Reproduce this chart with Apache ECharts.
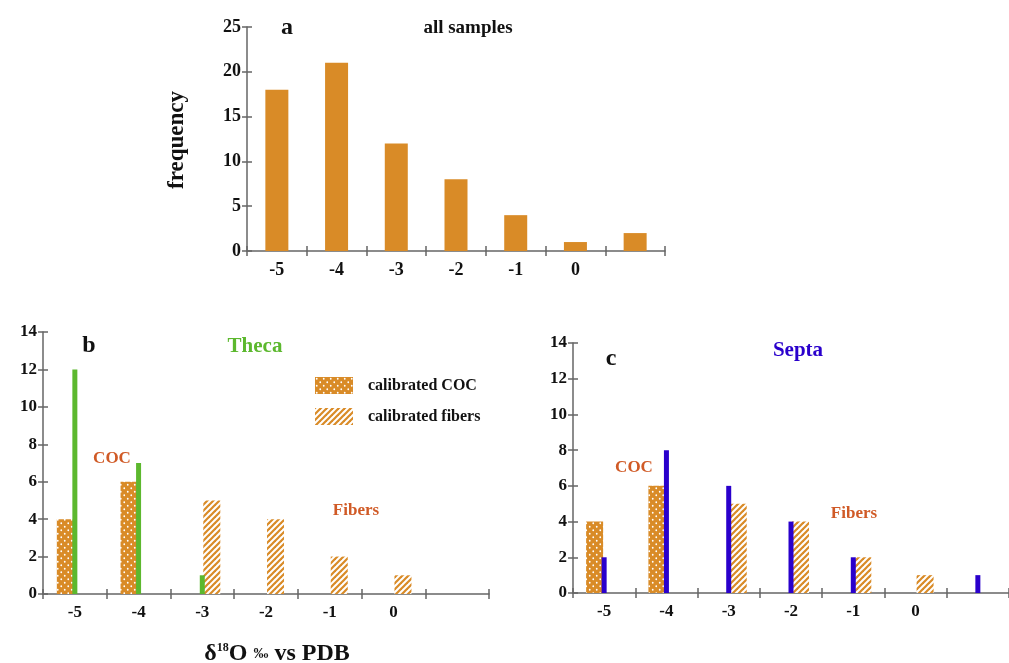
<!DOCTYPE html>
<html style="height: 100%">
<head>
<meta charset="utf-8">
<script src="https://cdn.jsdelivr.net/npm/echarts@6/dist/echarts.min.js"></script>
</head>
<body style="height: 100%; margin: 0; background: #fff">
<div id="container" style="width: 1009px; height: 663px"></div>
<script type="text/javascript">
// categories (delta 18O bins), last bin has no label
var bins = ['-5', '-4', '-3', '-2', '-1', '0', ''];

// a: all samples
var allSamples = [18, 21, 12, 8, 4, 1, 2];

// b: theca
var thecaCOC = [4, 6, null, null, null, null, null];
var thecaFibers = [null, null, 5, 4, 2, 1, null];
var thecaAll = [12, 7, 1, null, null, null, null];

// c: septa
var septaCOC = [4, 6, null, null, null, null, null];
var septaFibers = [null, null, 5, 4, 2, 1, null];
var septaAll = [2, 8, 6, 4, 2, null, 1];

var ORANGE = '#d98b27';
var GREEN = '#5cb82e';
var BLUE = '#2a00cc';
var RED = '#d05a26';
var AXIS = '#666';
var FONT = 'Liberation Serif';

function dotPattern() {
  var c = document.createElement('canvas');
  c.width = 7; c.height = 7;
  var g = c.getContext('2d');
  g.fillStyle = ORANGE;
  g.fillRect(0, 0, 7, 7);
  g.fillStyle = '#fff';
  g.beginPath(); g.arc(1.75, 1.75, 0.9, 0, Math.PI * 2); g.fill();
  g.beginPath(); g.arc(5.25, 5.25, 0.9, 0, Math.PI * 2); g.fill();
  return { image: c, repeat: 'repeat' };
}
function stripePattern() {
  var c = document.createElement('canvas');
  c.width = 6; c.height = 6;
  var g = c.getContext('2d');
  g.fillStyle = '#fff';
  g.fillRect(0, 0, 6, 6);
  g.strokeStyle = ORANGE;
  g.lineWidth = 2.2;
  [[-6, 6, 6, -6], [0, 6, 6, 0], [0, 12, 12, 0]].forEach(function (l) {
    g.beginPath(); g.moveTo(l[0], l[1]); g.lineTo(l[2], l[3]); g.stroke();
  });
  return { image: c, repeat: 'repeat' };
}
var DOTS = dotPattern();
var STRIPES = stripePattern();

var labelStyle = { color: '#111', fontFamily: FONT, fontWeight: 'bold', fontSize: 18 };

function xMain(grid, fs) {
  return {
    type: 'category', gridIndex: grid, position: 'bottom', data: bins,
    axisLine: { lineStyle: { color: AXIS, width: 1.5 } },
    axisTick: { show: true, length: 5, lineStyle: { color: AXIS, width: 1.5 } },
    axisLabel: Object.assign({ margin: 10 }, labelStyle, { fontSize: fs })
  };
}
function xInner(grid) {
  return {
    type: 'category', gridIndex: grid, position: 'bottom', data: bins,
    axisLine: { show: false },
    axisTick: { show: true, inside: true, length: 5, lineStyle: { color: AXIS, width: 1.5 } },
    axisLabel: { show: false }
  };
}
function yMain(grid, max, step, fs) {
  return {
    type: 'value', gridIndex: grid, position: 'left', min: 0, max: max, interval: step,
    splitLine: { show: false },
    axisLine: { show: true, lineStyle: { color: AXIS, width: 1.5 } },
    axisTick: { show: true, length: 5, lineStyle: { color: AXIS, width: 1.5 } },
    axisLabel: Object.assign({ margin: 6 }, labelStyle, { fontSize: fs })
  };
}
function yInner(grid, max, step) {
  return {
    type: 'value', gridIndex: grid, position: 'left', min: 0, max: max, interval: step,
    splitLine: { show: false },
    axisLine: { show: false },
    axisTick: { show: true, inside: true, length: 5, lineStyle: { color: AXIS, width: 1.5 } },
    axisLabel: { show: false }
  };
}
function txt(x, y, s, size, color) {
  return {
    type: 'text', x: x, y: y,
    style: { text: s, fontFamily: FONT, fontWeight: 'bold', fontSize: size, fill: color,
      align: 'center', verticalAlign: 'middle' }
  };
}

var myChart = echarts.init(document.getElementById('container'));
var option = {
  animation: false,
  grid: [
    { left: 247, top: 27, width: 418, height: 224 },
    { left: 43, top: 332, width: 446, height: 262 },
    { left: 573, top: 343, width: 446, height: 250 }
  ],
  xAxis: [xMain(0, 18), xInner(0), xMain(1, 17), xInner(1), xMain(2, 17), xInner(2)],
  yAxis: [yMain(0, 25, 5, 18), yInner(0, 25, 5), yMain(1, 14, 2, 17), yInner(1, 14, 2),
    yMain(2, 14, 2, 17), yInner(2, 14, 2)],
  legend: {
    left: 310, top: 372, orient: 'vertical', selectedMode: false,
    itemWidth: 38, itemHeight: 17, itemGap: 14, icon: 'rect',
    data: ['calibrated COC', 'calibrated fibers'],
    textStyle: { color: '#111', fontFamily: FONT, fontWeight: 'bold', fontSize: 16, padding: [0, 0, 0, 10] }
  },
  series: [
    { type: 'bar', name: 'all samples', xAxisIndex: 0, yAxisIndex: 0, data: allSamples,
      barWidth: 23, itemStyle: { color: ORANGE } },

    { type: 'bar', name: 'calibrated COC', xAxisIndex: 2, yAxisIndex: 2, data: thecaCOC,
      barWidth: 17, barGap: '12%', itemStyle: { color: DOTS } },
    { type: 'bar', name: 'calibrated fibers', xAxisIndex: 2, yAxisIndex: 2, data: thecaFibers,
      barWidth: 17, barGap: '12%', itemStyle: { color: STRIPES } },
    { type: 'bar', name: 'Theca', xAxisIndex: 3, yAxisIndex: 2, data: thecaAll, z: 5,
      barWidth: 5, itemStyle: { color: GREEN } },

    { type: 'bar', name: 'calibrated COC', xAxisIndex: 4, yAxisIndex: 4, data: septaCOC,
      barWidth: 17, barGap: '12%', itemStyle: { color: DOTS } },
    { type: 'bar', name: 'calibrated fibers', xAxisIndex: 4, yAxisIndex: 4, data: septaFibers,
      barWidth: 17, barGap: '12%', itemStyle: { color: STRIPES } },
    { type: 'bar', name: 'Septa', xAxisIndex: 5, yAxisIndex: 4, data: septaAll, z: 5,
      barWidth: 5, itemStyle: { color: BLUE } }
  ],
  graphic: {
    elements: [
      txt(287, 28, 'a', 24, '#111'),
      txt(468, 28, 'all samples', 19, '#111'),
      Object.assign(txt(177, 140, 'frequency', 23, '#111'), { rotation: Math.PI / 2 }),
      txt(89, 346, 'b', 24, '#111'),
      txt(255, 347, 'Theca', 21, GREEN),
      txt(112, 459, 'COC', 17, RED),
      txt(356, 511, 'Fibers', 17, RED),
      txt(611, 359, 'c', 24, '#111'),
      txt(798, 351, 'Septa', 21, BLUE),
      txt(634, 468, 'COC', 17, RED),
      txt(854, 514, 'Fibers', 17, RED),
      {
        type: 'text', x: 277, y: 654,
        style: {
          text: '{m|\u03b4}{s|18}{m|O }{p|\u2030}{m| vs PDB}',
          align: 'center', verticalAlign: 'middle',
          rich: {
            m: { fontFamily: FONT, fontWeight: 'bold', fontSize: 24, fill: '#111' },
            s: { fontFamily: FONT, fontWeight: 'bold', fontSize: 12, fill: '#111', verticalAlign: 'top', padding: [0, 0, 9, 0] },
            p: { fontFamily: FONT, fontWeight: 'bold', fontSize: 15, fill: '#111' }
          }
        }
      }
    ]
  }
};
myChart.setOption(option);
</script>
</body>
</html>
